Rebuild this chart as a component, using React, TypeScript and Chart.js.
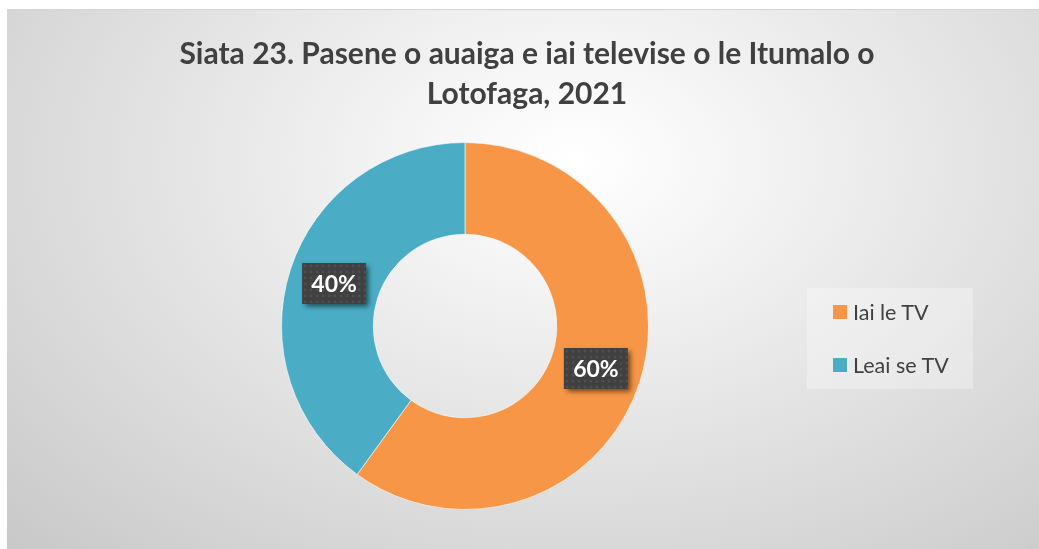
import React, { useEffect, useRef } from "react";
import { Chart, registerables } from "chart.js";

Chart.register(...registerables);

const categories = ["Iai le TV", "Leai se TV"];
const values = [60, 40];
const colors = ["#F79646", "#4BACC6"];
const titleLines = ["Siata 23. Pasene o auaiga e iai televise o le Itumalo o", "Lotofaga, 2021"];

const FONT = "Lato, 'Open Sans', sans-serif";

const labelPlugin = {
  id: "boxLabels",
  afterDatasetsDraw(chart: any) {
    const ctx = chart.ctx;
    const meta = chart.getDatasetMeta(0);
    const total = values.reduce((a, b) => a + b, 0);
    meta.data.forEach((arc: any, i: number) => {
      const p = arc.tooltipPosition();
      const text = Math.round((values[i] / total) * 100) + "%";
      const w = 64, h = 41;
      const x = p.x - w / 2, y = p.y - h / 2;
      ctx.save();
      ctx.shadowColor = "rgba(0,0,0,0.55)";
      ctx.shadowBlur = 5;
      ctx.shadowOffsetX = 3;
      ctx.shadowOffsetY = 3;
      ctx.fillStyle = "#404040";
      ctx.fillRect(x, y, w, h);
      ctx.restore();
      ctx.save();
      ctx.beginPath();
      ctx.rect(x, y, w, h);
      ctx.clip();
      ctx.fillStyle = "rgba(255,255,255,0.07)";
      for (let yy = y + 3; yy < y + h; yy += 6) {
        for (let xx = x + 3; xx < x + w; xx += 6) {
          ctx.beginPath();
          ctx.arc(xx, yy, 1.6, 0, Math.PI * 2);
          ctx.fill();
        }
      }
      ctx.restore();
      ctx.save();
      ctx.fillStyle = "#ffffff";
      ctx.font = "bold 23px " + FONT;
      ctx.textAlign = "center";
      ctx.textBaseline = "middle";
      ctx.fillText(text, p.x, p.y + 1);
      ctx.restore();
    });
  },
};

export default function App() {
  const ref = useRef<HTMLCanvasElement>(null);
  useEffect(() => {
    if (!ref.current) return;
    const chart = new Chart(ref.current, {
      type: "doughnut",
      data: {
        labels: categories,
        datasets: [
          {
            data: values,
            backgroundColor: colors,
            borderColor: "rgba(255,255,255,0.6)",
            borderWidth: 1,
          },
        ],
      },
      options: {
        animation: false,
        responsive: false,
        cutout: "50%",
        layout: { padding: { left: 200, right: 316, top: 133, bottom: 39 } },
        plugins: {
          legend: { display: false },
          title: { display: false },
          tooltip: { enabled: false },
        },
      },
      plugins: [labelPlugin],
    });
    return () => chart.destroy();
  }, []);

  return (
    <div
      style={{
        position: "fixed",
        left: 7,
        top: 9,
        width: 1032,
        height: 540,
        borderTop: "1px solid #d4d4d4",
        background:
          "radial-gradient(ellipse farthest-corner at 55% 28%, #ffffff 0%, #f6f6f6 18%, #c8c8c8 100%)",
        fontFamily: FONT,
      }}
    >
      <canvas ref={ref} width={1032} height={540} style={{ position: "absolute", left: 0, top: -1 }} />
      <div
        style={{
          position: "absolute",
          left: 0,
          width: 1040,
          top: 22,
          textAlign: "center",
          color: "#404040",
          fontWeight: "bold",
          fontSize: 30,
          lineHeight: "40px",
        }}
      >
        {titleLines.map((t, i) => (
          <div key={i}>{t}</div>
        ))}
      </div>
      <div
        style={{
          position: "absolute",
          left: 800,
          top: 278,
          width: 166,
          height: 101,
          background: "rgba(255,255,255,0.3)",
          color: "#404040",
          fontSize: 21.5,
        }}
      >
        {categories.map((c, i) => (
          <div
            key={c}
            style={{
              position: "absolute",
              left: 26,
              top: i === 0 ? 12 : 65,
              display: "flex",
              alignItems: "center",
              height: 24,
            }}
          >
            <span style={{ display: "inline-block", width: 14, height: 14, background: colors[i], marginRight: 6 }} />
            <span>{c}</span>
          </div>
        ))}
      </div>
    </div>
  );
}
